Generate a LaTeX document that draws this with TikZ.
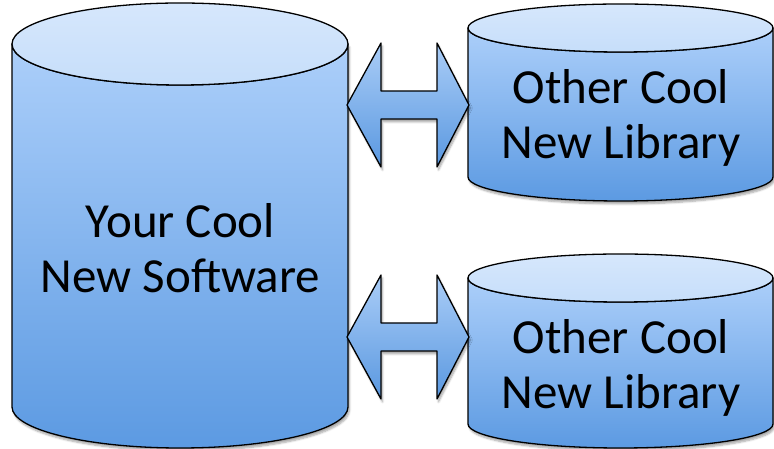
\documentclass[tikz,border=0pt]{standalone}
\usepackage{fontspec}
\setmainfont{Carlito}
\usetikzlibrary{shadows.blur}
\definecolor{bodytop}{RGB}{172,207,250}
\definecolor{bodybot}{RGB}{92,154,226}
\definecolor{captop}{RGB}{214,231,252}
\definecolor{capbot}{RGB}{198,222,250}
\definecolor{arrtop}{RGB}{170,205,247}
\definecolor{arrbot}{RGB}{90,152,224}
\tikzset{
  outline/.style={draw=black, line width=1.3pt, line join=round},
  bodyshade/.style={outline, top color=bodytop, bottom color=bodybot},
  capshade/.style={outline, top color=captop, bottom color=capbot},
  arrowshade/.style={outline, top color=arrtop, bottom color=arrbot},
  dropshadow/.style={blur shadow={shadow xshift=1.5pt, shadow yshift=-3pt, shadow blur steps=6, shadow opacity=35}},
  cyllabel/.style={font=\fontsize{49}{55}\selectfont, align=center, inner sep=0pt, text=black},
}
% cx, ytop, ybot, rx, ry
\newcommand\drawcyl[5]{%
  \path[bodyshade, dropshadow] (#1-#4,#2) -- (#1-#4,#3)
    arc[start angle=180, end angle=360, x radius=#4pt, y radius=#5pt]
    -- (#1+#4,#2)
    arc[start angle=0, end angle=-180, x radius=#4pt, y radius=#5pt] -- cycle;
  \path[capshade] (#1,#2) ellipse[x radius=#4pt, y radius=#5pt];
}
% center y
\newcommand\drawdblarrow[1]{%
  \path[arrowshade, dropshadow] (347,#1) -- (381,#1+62) -- (381,#1+14) -- (437,#1+14)
    -- (437,#1+62) -- (469,#1) -- (437,#1-62) -- (437,#1-14) -- (381,#1-14)
    -- (381,#1-62) -- cycle;
}
\begin{document}
\begin{tikzpicture}[x=1pt, y=1pt]
  \useasboundingbox (0,0) rectangle (774,449);
  \drawcyl{180}{405}{42}{168}{41}
  \drawcyl{620.5}{421}{272}{152.5}{24}
  \drawcyl{620.5}{171}{25}{152.5}{24}
  \drawdblarrow{344}
  \drawdblarrow{112}
  \node[cyllabel] (main) at (180.5,201) {Your Cool\\New Software};
  \node[cyllabel] (libA) at (621,331) {Other Cool\\New Library};
  \node[cyllabel] (libB) at (621,81) {Other Cool\\New Library};
\end{tikzpicture}
\end{document}
